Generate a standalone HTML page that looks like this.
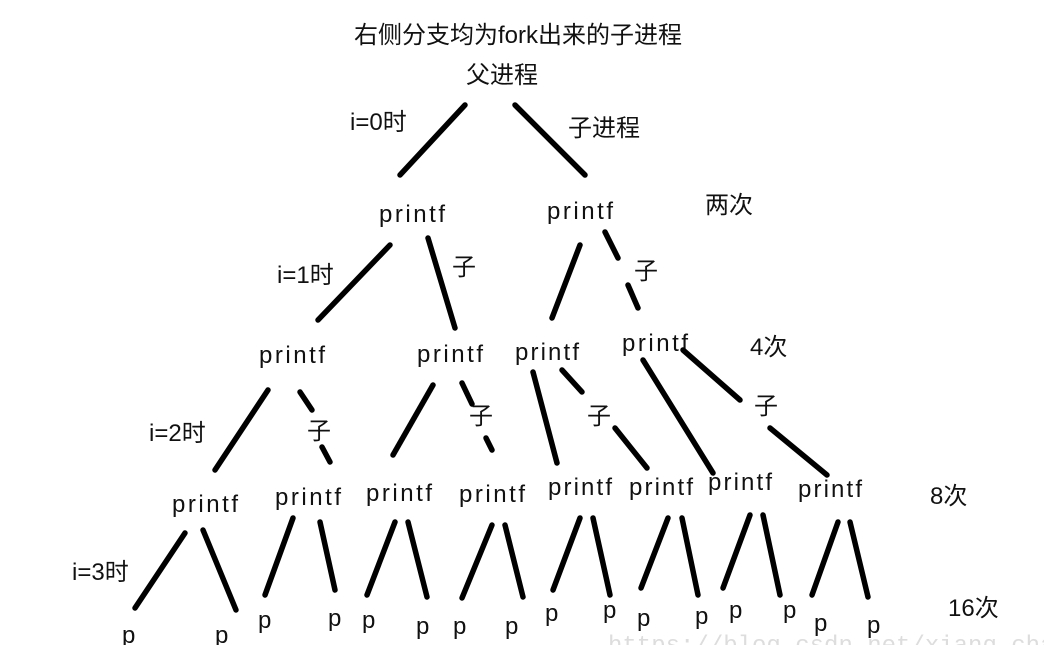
<!DOCTYPE html>
<html><head><meta charset="utf-8"><style>
html,body{margin:0;padding:0;background:#fff;}
svg{display:block}
text{font-family:"Liberation Sans","Noto Sans CJK SC",sans-serif;fill:#111;font-size:24px}
line{stroke:#000;stroke-width:5.5;stroke-linecap:round}
</style></head><body>
<svg width="1044" height="645" viewBox="0 0 1044 645" xmlns="http://www.w3.org/2000/svg">
<rect width="1044" height="645" fill="#fff"/>
<text x="518" y="43" text-anchor="middle" font-size="24">右侧分支均为fork出来的子进程</text>
<text x="502" y="83" text-anchor="middle" font-size="24">父进程</text>
<text x="350" y="130" font-size="23">i=0时</text>
<text x="568" y="136" font-size="23">子进程</text>
<text x="705" y="213" font-size="23">两次</text>
<text x="277" y="283" font-size="23">i=1时</text>
<text x="149" y="441" font-size="23">i=2时</text>
<text x="72" y="580" font-size="23">i=3时</text>
<text x="750" y="355" font-size="23">4次</text>
<text x="930" y="504" font-size="23">8次</text>
<text x="948" y="616" font-size="23">16次</text>
<text x="452" y="275" font-size="23">子</text>
<text x="634" y="279" font-size="23">子</text>
<text x="307" y="439" font-size="23">子</text>
<text x="469" y="424" font-size="23">子</text>
<text x="587" y="424" font-size="23">子</text>
<text x="754" y="414" font-size="23">子</text>
<g font-size="27">
<text x="379" y="222" textLength="66">printf</text>
<text x="547" y="219" textLength="66">printf</text>
<text x="259" y="363" textLength="66">printf</text>
<text x="417" y="362" textLength="66">printf</text>
<text x="515" y="360" textLength="64">printf</text>
<text x="622" y="351" textLength="66">printf</text>
<text x="172" y="512" textLength="66">printf</text>
<text x="275" y="505" textLength="66">printf</text>
<text x="366" y="501" textLength="66">printf</text>
<text x="459" y="502" textLength="66">printf</text>
<text x="548" y="495" textLength="64">printf</text>
<text x="629" y="495" textLength="64">printf</text>
<text x="708" y="490" textLength="64">printf</text>
<text x="798" y="497" textLength="64">printf</text>
</g>
<g font-size="26">
<text x="122" y="643">p</text><text x="215" y="643">p</text>
<text x="258" y="628">p</text><text x="328" y="626">p</text>
<text x="362" y="628">p</text><text x="416" y="634">p</text>
<text x="453" y="634">p</text><text x="505" y="634">p</text>
<text x="545" y="621">p</text><text x="603" y="618">p</text>
<text x="637" y="626">p</text><text x="695" y="624">p</text>
<text x="729" y="618">p</text><text x="783" y="618">p</text>
<text x="814" y="631">p</text><text x="867" y="633">p</text>
</g>
<line x1="465" y1="105" x2="400" y2="175"/>
<line x1="515" y1="105" x2="585" y2="175"/>
<line x1="390" y1="245" x2="318" y2="320"/>
<line x1="428" y1="238" x2="455" y2="328"/>
<line x1="580" y1="245" x2="552" y2="318"/>
<line x1="605" y1="232" x2="618" y2="258"/>
<line x1="628" y1="285" x2="638" y2="308"/>
<line x1="268" y1="390" x2="215" y2="470"/>
<line x1="300" y1="392" x2="312" y2="410"/>
<line x1="322" y1="447" x2="330" y2="462"/>
<line x1="433" y1="385" x2="393" y2="455"/>
<line x1="462" y1="383" x2="472" y2="404"/>
<line x1="486" y1="438" x2="492" y2="450"/>
<line x1="533" y1="372" x2="557" y2="463"/>
<line x1="562" y1="370" x2="582" y2="392"/>
<line x1="615" y1="428" x2="647" y2="468"/>
<line x1="643" y1="360" x2="713" y2="473"/>
<line x1="683" y1="350" x2="740" y2="400"/>
<line x1="770" y1="428" x2="827" y2="475"/>
<line x1="185" y1="533" x2="135" y2="608"/>
<line x1="203" y1="530" x2="236" y2="610"/>
<line x1="293" y1="518" x2="265" y2="595"/>
<line x1="320" y1="522" x2="335" y2="590"/>
<line x1="395" y1="522" x2="367" y2="595"/>
<line x1="408" y1="522" x2="427" y2="597"/>
<line x1="492" y1="525" x2="462" y2="598"/>
<line x1="505" y1="525" x2="523" y2="597"/>
<line x1="580" y1="518" x2="553" y2="590"/>
<line x1="593" y1="518" x2="610" y2="595"/>
<line x1="668" y1="518" x2="641" y2="588"/>
<line x1="682" y1="518" x2="698" y2="595"/>
<line x1="750" y1="515" x2="723" y2="588"/>
<line x1="763" y1="515" x2="780" y2="595"/>
<line x1="838" y1="522" x2="812" y2="595"/>
<line x1="850" y1="522" x2="868" y2="597"/>
<text x="608" y="652" font-family="Liberation Mono" font-size="20" style="fill:#ddd;font-family:'Liberation Mono',monospace">https://blog.csdn.net/xiang_chao344</text>
</svg>
</body></html>
